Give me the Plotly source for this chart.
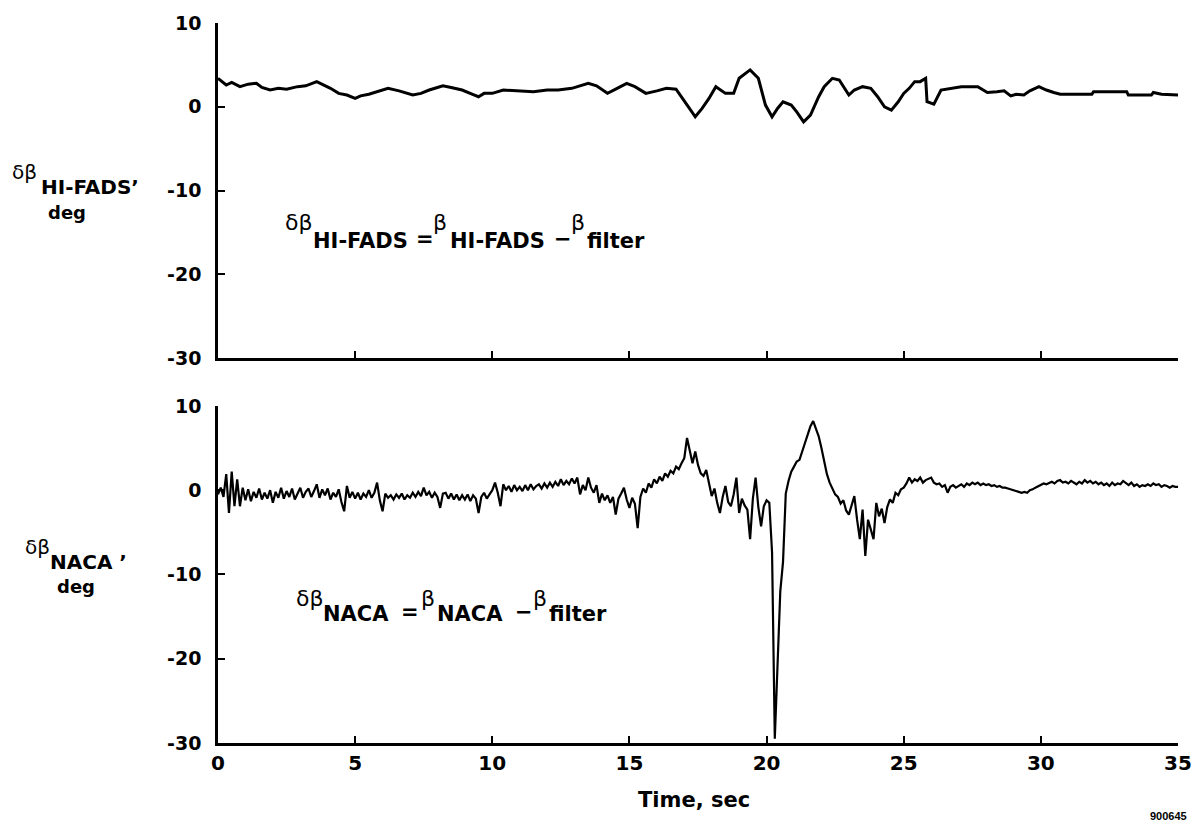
import numpy as np
import plotly.graph_objects as go
from plotly.subplots import make_subplots

# ---------------- data ----------------
fads_pts = [
    (0.0, 3.4), (0.15, 3.0), (0.3, 2.6), (0.5, 2.9), (0.8, 2.4), (1.1, 2.7), (1.4, 2.8), (1.6, 2.3),
    (1.9, 2.0), (2.2, 2.2), (2.5, 2.1), (2.9, 2.4), (3.2, 2.5), (3.6, 3.0), (3.8, 2.7), (4.1, 2.2),
    (4.4, 1.6), (4.7, 1.4), (5.0, 1.0), (5.2, 1.3), (5.5, 1.5), (5.8, 1.8), (6.2, 2.2), (6.6, 1.9),
    (7.1, 1.4), (7.4, 1.6), (7.7, 2.0), (8.0, 2.3), (8.2, 2.5), (8.5, 2.3), (8.9, 2.0), (9.35, 1.4),
    (9.5, 1.2), (9.7, 1.6), (10.0, 1.6), (10.4, 2.0), (10.9, 1.9), (11.5, 1.8), (12.0, 2.0), (12.4, 2.0),
    (12.9, 2.2), (13.2, 2.5), (13.5, 2.8), (13.8, 2.5), (14.2, 1.6), (14.5, 2.1), (14.9, 2.8), (15.2, 2.4),
    (15.6, 1.6), (16.0, 1.9), (16.35, 2.2), (16.7, 2.1), (16.95, 1.0), (17.15, 0.0), (17.4, -1.2), (17.65, -0.2),
    (17.9, 1.0), (18.15, 2.4), (18.5, 1.6), (18.8, 1.6), (19.0, 3.4), (19.2, 3.9), (19.4, 4.4), (19.7, 3.4),
    (19.96, 0.2), (20.2, -1.2), (20.4, -0.2), (20.6, 0.6), (20.9, 0.2), (21.1, -0.6), (21.35, -1.8), (21.6, -1.0),
    (21.9, 1.2), (22.1, 2.4), (22.4, 3.4), (22.65, 3.2), (23.0, 1.4), (23.2, 2.0), (23.5, 2.4), (23.8, 2.2),
    (24.05, 1.2), (24.3, 0.0), (24.55, -0.4), (24.8, 0.6), (25.0, 1.6), (25.2, 2.2), (25.4, 3.0), (25.6, 3.0),
    (25.76, 3.4), (25.8, 3.4), (25.85, 0.6), (26.1, 0.3), (26.36, 2.0), (26.7, 2.2), (27.1, 2.4), (27.7, 2.4),
    (28.05, 1.7), (28.4, 1.8), (28.66, 1.9), (28.9, 1.3), (29.1, 1.5), (29.38, 1.4), (29.6, 1.9), (29.93, 2.4),
    (30.2, 2.0), (30.47, 1.7), (30.71, 1.5), (31.2, 1.5), (31.86, 1.5), (31.92, 1.8), (32.5, 1.8), (33.13, 1.8),
    (33.19, 1.4), (33.6, 1.4), (34.03, 1.4), (34.1, 1.7), (34.4, 1.5), (35.0, 1.4),
]
t_fads = [p[0] for p in fads_pts]
d_fads = [p[1] for p in fads_pts]

# NACA trace sampled every 0.1 s (one row per second)
d_naca = [
    -0.5, 0.3, -0.8, 1.9, -2.7, 2.2, -1.9, 1.3, -1.9, 0.3,
    -1.2, 0.1, -1.3, -0.2, -0.9, 0.2, -1.1, -0.3, -1.0, 0.0,
    -1.5, -0.2, -0.9, 0.3, -1.0, -0.1, -0.8, 0.2, -1.1, -0.4,
    0.3, -0.9, -0.2, 0.2, -0.8, -0.1, 0.7, -0.9, 0.1, -0.6,
    0.2, -1.1, -0.3, -0.8, 0.1, -1.4, -2.5, 0.5, -0.9, -0.2,
    -1.0, -0.3, -1.1, -0.4, -0.8, 0.0, -0.9, -0.3, 0.9, -1.2,
    -2.5, -0.4, -0.9, -0.6, -1.1, -0.5, -0.9, -0.4, -1.1, -0.6,
    -0.9, -0.3, -0.8, -0.2, -0.7, 0.3, -0.6, -0.2, -0.9, -0.3,
    -0.8, -2.1, -0.4, -0.3, -1.0, -0.4, -1.1, -0.5, -1.2, -0.6,
    -1.1, -0.5, -1.3, -0.6, -1.0, -2.7, -0.8, -0.3, -1.0, -0.5,
    0.0, 0.9, -0.3, -1.9, 0.7, 0.0, 0.5, -0.2, 0.6, 0.0,
    0.4, -0.1, 0.6, 0.0, 0.7, 0.1, 0.5, 0.7, 0.2, 0.8,
    0.3, 0.9, 0.4, 1.0, 0.5, 1.3, 0.6, 1.1, 0.7, 1.4,
    0.8, 1.5, -0.5, 0.6, 0.0, 1.5, 0.3, -0.3, 0.6, -1.5,
    -0.4, -1.2, -0.6, -1.5, -0.8, -2.9, -1.0, -0.4, 0.3, -1.1,
    -2.1, -0.9, -1.6, -4.5, -0.8, 0.2, -0.3, 0.8, 0.3, 1.3,
    0.8, 1.6, 1.1, 2.0, 1.6, 2.3, 2.0, 2.8, 2.5, 3.2,
    3.8, 6.2, 4.8, 3.2, 4.6, 3.0, 2.0, 1.7, 2.4, 0.8,
    -0.7, 0.2, -1.5, -2.7, -0.8, 0.5, -1.4, -1.9, -0.5, 1.5,
    -2.7, -1.0, -1.8, -2.3, -5.8, -1.0, 1.5, -2.0, -4.3, -1.9,
    -1.2, -1.5, -7.4, -29.5, -21.0, -12.0, -8.5, -0.4, 1.1, 2.2,
    2.8, 3.4, 3.6, 4.5, 5.6, 6.6, 7.6, 8.2, 7.2, 6.4,
    5.0, 3.2, 1.9, 0.9, 0.2, -0.5, -0.8, -1.6, -1.2, -2.4,
    -2.9, -1.8, -0.7, -3.5, -5.8, -2.3, -7.8, -3.5, -4.6, -5.8,
    -1.5, -3.1, -2.2, -3.9, -2.0, -1.1, -1.5, -0.3, -0.6, 0.1,
    0.3, 0.8, 1.5, 0.9, 1.3, 1.1, 1.5, 0.9, 1.2, 1.4,
    1.5, 0.9, 0.7, 0.8, 0.4, 0.6, -0.3, 0.4, 0.6, 0.3,
    0.5, 0.7, 0.4, 0.8, 0.6, 0.9, 0.7, 0.9, 0.6, 0.8,
    0.6, 0.7, 0.5, 0.6, 0.4, 0.5, 0.3, 0.3, 0.2, 0.1,
    0.0, -0.1, -0.2, -0.3, -0.2, -0.3, 0.0, 0.1, 0.3, 0.5,
    0.6, 0.8, 0.7, 0.9, 1.0, 0.8, 1.1, 1.2, 0.9, 1.0,
    0.8, 1.1, 0.9, 0.7, 1.0, 0.8, 1.2, 0.9, 1.1, 0.8,
    1.0, 0.7, 0.9, 0.6, 0.8, 0.5, 0.9, 0.6, 0.8, 0.7,
    1.1, 0.8, 0.6, 0.9, 0.5, 0.7, 0.4, 0.6, 0.5, 0.7,
    0.5, 0.8, 0.6, 0.7, 0.4, 0.6, 0.5, 0.3, 0.5, 0.4,
    0.4,
]
t_naca = [round(i * 0.1, 1) for i in range(len(d_naca))]

x_ticks = [0, 5, 10, 15, 20, 25, 30, 35]
x_ticktext = ["0", "5", "10", "15", "20", "25", "30", "35"]
y_ticks = [-30, -20, -10, 0, 10]
y_ticktext = ["-30", "-20", "-10", "0", "10"]

# ---------------- layout helpers ----------------
W, H = 1204, 825
L, R, T, B = 218, 1185, 21, 743


def px(xp):
    return (xp - L) / (R - L)


def py(yp):
    return (B - yp) / (B - T)


FAM = "DejaVu Sans"

fig = make_subplots(rows=2, cols=1, shared_xaxes=False, vertical_spacing=0.05)

fig.add_trace(go.Scatter(x=t_fads, y=d_fads, mode="lines",
                         line=dict(color="black", width=3), showlegend=False), row=1, col=1)
fig.add_trace(go.Scatter(x=t_naca, y=d_naca, mode="lines",
                         line=dict(color="black", width=2.2), showlegend=False), row=2, col=1)

axis_common = dict(showline=True, linecolor="black", linewidth=2.5, ticks="inside",
                   ticklen=7, tickwidth=2, tickcolor="black", showgrid=False, zeroline=False)

fig.update_xaxes(range=[0, 35], tickmode="array", tickvals=x_ticks, ticktext=x_ticktext,
                 tickfont=dict(family=FAM, size=20, color="black", weight="bold"), **axis_common)
fig.update_xaxes(showticklabels=False, row=1, col=1)
fig.update_yaxes(range=[-30, 10], tickmode="array", tickvals=y_ticks, ticktext=y_ticktext,
                 ticklabelstandoff=10,
                 tickfont=dict(family=FAM, size=19, color="black", weight="bold"), **axis_common)

fig.update_layout(
    xaxis=dict(domain=[0, 1], anchor="y"),
    yaxis=dict(domain=[py(357), 1]),
    xaxis2=dict(domain=[0, 1], anchor="y2"),
    yaxis2=dict(domain=[0, py(405)]),
)

ann = []


def greek(xp, yp, text, size=21):
    ann.append(dict(xref="paper", yref="paper", x=px(xp), y=py(yp), text=text,
                    showarrow=False, xanchor="left", yanchor="middle",
                    font=dict(family=FAM, size=size, color="black", weight="normal")))


def bt(xp, yp, text, size=21, xanchor="left"):
    ann.append(dict(xref="paper", yref="paper", x=px(xp), y=py(yp), text=text,
                    showarrow=False, xanchor=xanchor, yanchor="middle",
                    font=dict(family=FAM, size=size, color="black", weight="bold")))


# y-axis titles
greek(8, 170, "δβ", 20)
bt(38, 185, "HI-FADS’", 20)
bt(66, 211, "deg", 18, "center")
greek(22, 546, "δβ", 20)
bt(47, 561, "NACA ’", 20)
bt(75, 586, "deg", 18, "center")

# equations
greek(283, 221, "δβ", 22)
bt(312, 240, "HI-FADS")
bt(415, 238, "=")
greek(433, 221, "β", 22)
bt(450, 240, "HI-FADS")
bt(554, 238, "−")
greek(572, 221, "β", 22)
bt(588, 240, "filter")

greek(295, 598, "δβ", 22)
bt(322, 614, "NACA")
bt(400, 612, "=")
greek(420, 598, "β", 22)
bt(437, 614, "NACA")
bt(515, 612, "−")
greek(533, 598, "β", 22)
bt(549, 614, "filter")

# x title and figure number
bt(697, 800, "Time, sec", 21, "center")
ann.append(dict(xref="paper", yref="paper", x=px(1196), y=py(816), text="900645",
                showarrow=False, xanchor="right", yanchor="middle",
                font=dict(family="Liberation Sans Narrow, Liberation Sans", size=11,
                          color="black", weight="bold")))

fig.update_layout(
    width=W, height=H,
    margin=dict(l=L, r=W - R, t=T, b=H - B),
    paper_bgcolor="white", plot_bgcolor="white",
    annotations=ann,
    showlegend=False,
)

fig.write_html("out.html")
